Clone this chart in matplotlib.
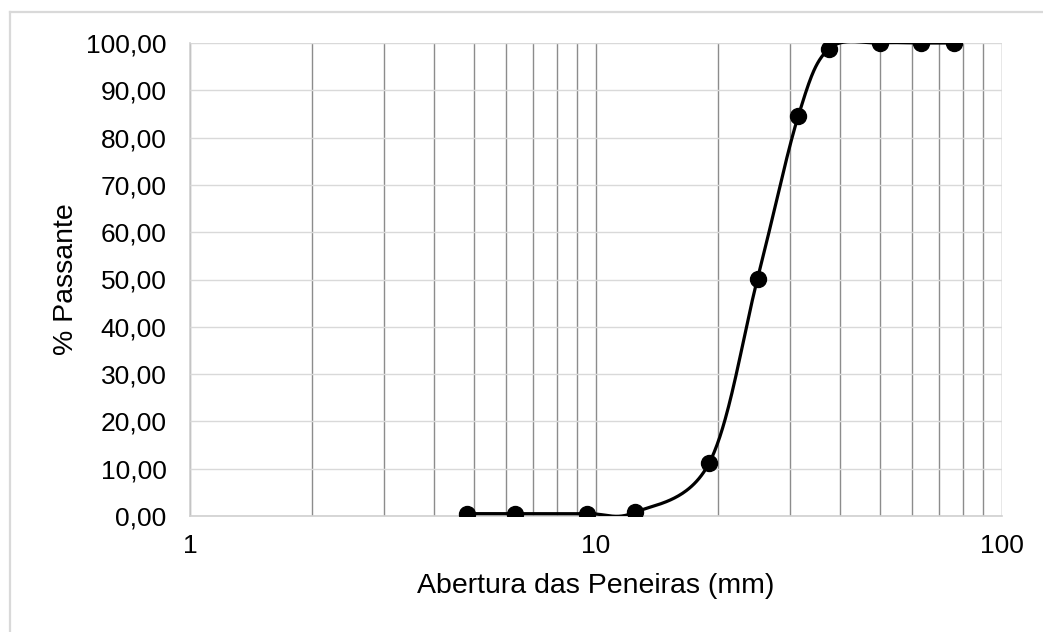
import numpy as np
import matplotlib
matplotlib.use("Agg")
import matplotlib.pyplot as plt
from matplotlib.lines import Line2D
from matplotlib.ticker import FixedLocator, FuncFormatter, NullFormatter

plt.rcParams['font.family'] = ['Liberation Sans', 'DejaVu Sans']

# Data
abertura_mm = [4.8, 6.3, 9.5, 12.5, 19.0, 25.0, 31.5, 37.5, 50.0, 63.0, 76.0]
passante = [0.5, 0.5, 0.5, 0.8, 11.2, 50.2, 84.6, 98.8, 100.0, 100.0, 100.0]
x_label = "Abertura das Peneiras (mm)"
y_label = "% Passante"
y_ticks = [0, 10, 20, 30, 40, 50, 60, 70, 80, 90, 100]
x_major = [1, 10, 100]

W, H = 1043, 632
fig = plt.figure(figsize=(W / 100, H / 100), dpi=100)
ax = fig.add_axes([190 / W, 1 - 516 / H, (1002 - 190) / W, (516 - 43) / H])

# Excel-like smoothed curve (Bezier, factor 1/6) in log-x space
u = np.log10(np.array(abertura_mm))
v = np.array(passante, dtype=float)
P = np.column_stack([u, v])
n = len(P)
t = np.linspace(0, 1, 60)[:, None]
curve = []
for i in range(n - 1):
    p0 = P[i]
    p3 = P[i + 1]
    pm = P[i - 1] if i > 0 else P[i]
    pp = P[i + 2] if i + 2 < n else P[i + 1]
    c1 = p0 + (p3 - pm) / 6.0
    c2 = p3 - (pp - p0) / 6.0
    seg = ((1 - t) ** 3) * p0 + 3 * ((1 - t) ** 2) * t * c1 + 3 * (1 - t) * t ** 2 * c2 + t ** 3 * p3
    curve.append(seg)
curve = np.vstack(curve)
ax.plot(10 ** curve[:, 0], curve[:, 1], color='black', lw=2.3, zorder=3, solid_capstyle='round')
ax.plot(abertura_mm, passante, linestyle='none', marker='o', markersize=11.5,
        color='black', zorder=4)

ax.set_xscale('log')
ax.set_xlim(1, 100)
ax.set_ylim(0, 100)
ax.yaxis.set_major_locator(FixedLocator(y_ticks))
ax.yaxis.set_major_formatter(FuncFormatter(lambda val, pos: f"{val:.2f}".replace('.', ',')))
ax.xaxis.set_major_locator(FixedLocator(x_major))
ax.xaxis.set_major_formatter(FuncFormatter(lambda val, pos: f"{val:g}"))
minor = [m * 10 ** d for d in (0, 1) for m in range(2, 10)]
ax.xaxis.set_minor_locator(FixedLocator(minor))
ax.xaxis.set_minor_formatter(NullFormatter())

ax.set_axisbelow(True)
ax.grid(True, axis='y', which='major', color='#d9d9d9', lw=1.0)
ax.grid(True, axis='x', which='both', color='#8c8c8c', lw=1.0)

for s in ('top', 'right'):
    ax.spines[s].set_visible(False)
for s in ('left', 'bottom'):
    ax.spines[s].set_color('#d0d0d0')
    ax.spines[s].set_linewidth(1.2)
    ax.spines[s].set_zorder(2.5)

ax.tick_params(axis='both', which='both', length=0, labelsize=19, colors='#000000')
ax.tick_params(axis='y', pad=17)
ax.tick_params(axis='x', pad=13)
ax.set_xlabel(x_label, fontsize=20.5, labelpad=11)
ax.set_ylabel(y_label, fontsize=20.5, labelpad=5)

# outer chart frame (left and top visible)
fig.add_artist(Line2D([10 / W, 10 / W], [0, 1 - 12 / H], color='#d9d9d9', lw=1.6, transform=fig.transFigure))
fig.add_artist(Line2D([10 / W, 1], [1 - 12 / H, 1 - 12 / H], color='#d9d9d9', lw=1.6, transform=fig.transFigure))

fig.savefig('out.png', dpi=100, facecolor='white')
